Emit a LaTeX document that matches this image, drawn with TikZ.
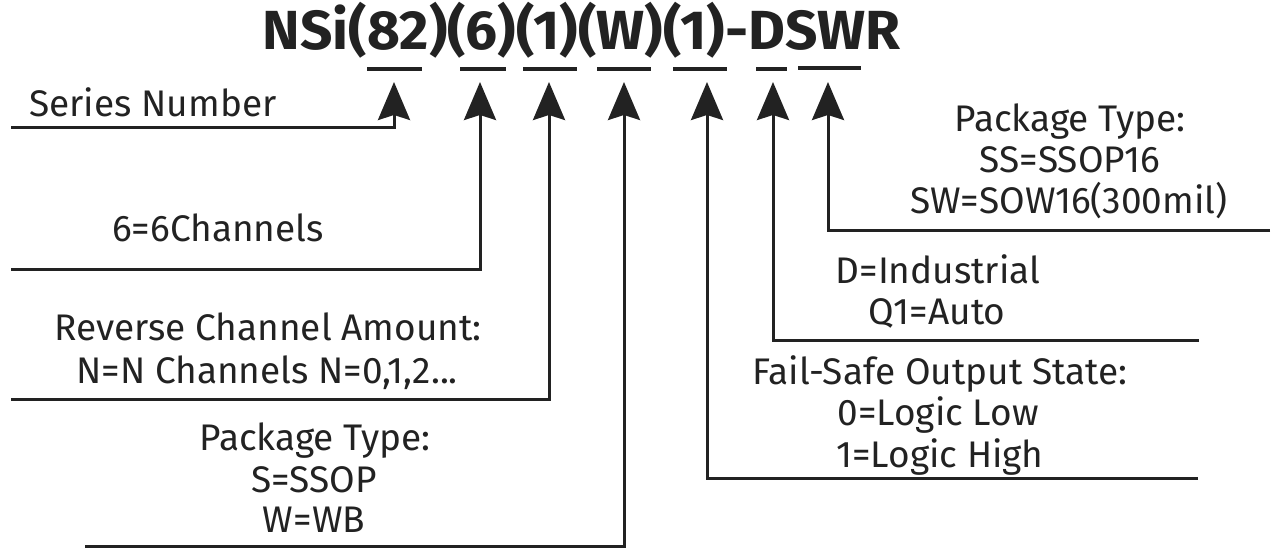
\documentclass[tikz,border=0pt]{standalone}
\usepackage{fontspec}
\setmainfont{Fira Sans}
\usetikzlibrary{arrows.meta}
\definecolor{ink}{RGB}{34,34,34}
\begin{document}
\begin{tikzpicture}[x=1pt,y=-1pt,
  lbl/.style={anchor=base,inner sep=0pt,text=ink,font=\fontsize{37}{42}\selectfont},
  ttl/.style={anchor=base,inner sep=0pt,text=ink,font=\fontsize{54}{60}\bfseries\selectfont},
  conn/.style={draw=ink,line width=3pt,-{Stealth[length=38pt,width=32pt,inset=5pt]}},
  uline/.style={draw=ink,line width=4pt}]
\useasboundingbox (0,0) rectangle (1274,548);
% title
\node[ttl,xscale=1.05,yscale=1.02] (title) at (581.5,50) {NSi(82)(6)(1)(W)(1)-DSWR};
% underlines
\draw[uline] (367,69) -- (422,69);
\draw[uline] (460,69) -- (506,69);
\draw[uline] (523,69) -- (577,69);
\draw[uline] (597,69) -- (651,69);
\draw[uline] (673,69) -- (727,69);
\draw[uline] (756,69) -- (787,69);
\draw[uline] (798,68) -- (861,68);
% arrow tips
\coordinate (t1) at (394,82);
\coordinate (t2) at (480,82);
\coordinate (t3) at (549,82);
\coordinate (t4) at (624,82);
\coordinate (t5) at (707,82);
\coordinate (t6) at (773,82);
\coordinate (t7) at (828,82);
% line ends
\coordinate (s1) at (11,128);
\coordinate (s2) at (11,269);
\coordinate (s3) at (11,399);
\coordinate (s4) at (85,546);
\coordinate (s5) at (1198,478);
\coordinate (s6) at (1199,340);
\coordinate (s7) at (1270,230);
\draw[conn] (s1) -| (t1);
\draw[conn] (s2) -| (t2);
\draw[conn] (s3) -| (t3);
\draw[conn] (s4) -| (t4);
\draw[conn] (s5) -| (t5);
\draw[conn] (s6) -| (t6);
\draw[conn] (s7) -| (t7);
% labels left
\node[lbl] (l1) at (153,117) {Series Number};
\node[lbl] (l2) at (218,241) {6=6Channels};
\node[lbl] (l3a) at (268,340) {Reverse Channel Amount:};
\node[lbl] (l3b) at (267,383) {N=N Channels N=0,1,2...};
\node[lbl] (l4a) at (315,450) {Package Type:};
\node[lbl] (l4b) at (314,492) {S=SSOP};
\node[lbl] (l4c) at (314,532) {W=WB};
% labels right
\node[lbl] (l5a) at (940,384) {Fail-Safe Output State:};
\node[lbl] (l5b) at (938,425) {0=Logic Low};
\node[lbl] (l5c) at (940,467) {1=Logic High};
\node[lbl] (l6a) at (938,283) {D=Industrial};
\node[lbl] (l6b) at (937,324) {Q1=Auto};
\node[lbl] (l7a) at (1070,132) {Package Type:};
\node[lbl] (l7b) at (1070,173) {SS=SSOP16};
\node[lbl] (l7c) at (1069,214) {SW=SOW16(300mil)};
\end{tikzpicture}
\end{document}
